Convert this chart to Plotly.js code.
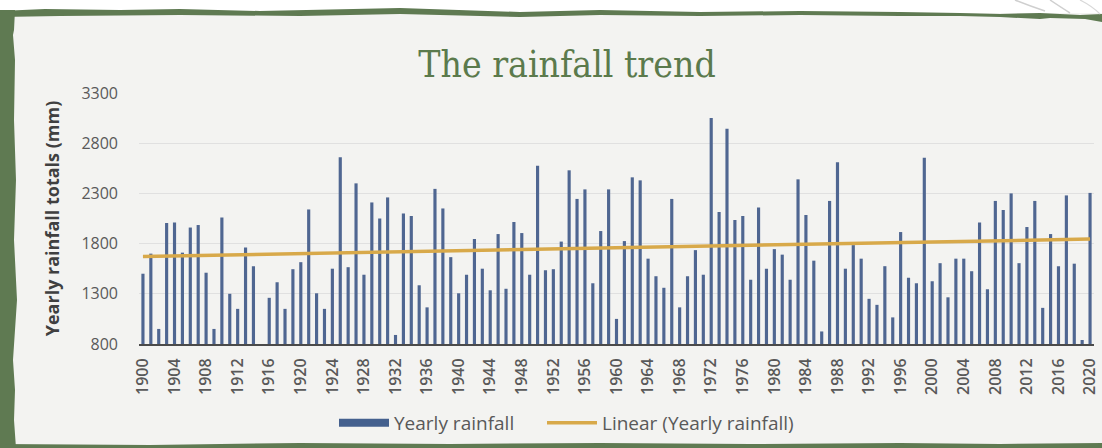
<!DOCTYPE html>
<html>
<head>
<meta charset="utf-8">
<script src="https://cdn.plot.ly/plotly-3.0.1.min.js"></script>
<style>html,body{margin:0;padding:0;background:#f3f3f1;}#chart{width:1102px;height:448px;}</style>
</head>
<body>
<div id="chart"></div>
<script>
// ---- data ----
const firstYear = 1900;
const lastYear = 2020;
const years = [];
for (let y = firstYear; y <= lastYear; y++) years.push(y);

const rainfall = [
  1500, 1700, 950, 2005, 2010, 1710, 1960, 1985, 1510, 950,   // 1900-1909
  2060, 1300, 1150, 1760, 1575, null, 1260, 1415, 1150, 1545, // 1910-1919
  1615, 2140, 1305, 1150, 1550, 2660, 1565, 2400, 1490, 2210, // 1920-1929
  2050, 2260, 890, 2100, 2075, 1385, 1165, 2345, 2150, 1665,  // 1930-1939
  1305, 1490, 1845, 1550, 1335, 1895, 1350, 2015, 1905, 1490, // 1940-1949
  2575, 1535, 1545, 1820, 2530, 2245, 2340, 1405, 1925, 2340, // 1950-1959
  1050, 1825, 2460, 2430, 1650, 1475, 1360, 2245, 1165, 1475, // 1960-1969
  1735, 1490, 3050, 2115, 2945, 2035, 2075, 1440, 2160, 1550, // 1970-1979
  1745, 1690, 1440, 2440, 2085, 1630, 925, 2225, 2610, 1550,  // 1980-1989
  1785, 1650, 1250, 1190, 1575, 1065, 1915, 1460, 1405, 2655, // 1990-1999
  1425, 1605, 1265, 1650, 1650, 1525, 2010, 1345, 2225, 2135, // 2000-2009
  2300, 1605, 1965, 2225, 1160, 1895, 1575, 2280, 1600, 840,  // 2010-2019
  2305                                                        // 2020
];

const trendYears = [1900, 2020];
const trendValues = [1672, 1845];

const xTickVals = [1900,1904,1908,1912,1916,1920,1924,1928,1932,1936,1940,1944,1948,1952,1956,1960,1964,1968,1972,1976,1980,1984,1988,1992,1996,2000,2004,2008,2012,2016,2020];
const xTickText = xTickVals.map(String);
const yTickVals = [800, 1300, 1800, 2300, 2800, 3300];

const seriesName = 'Yearly rainfall';
const trendName = 'Linear (Yearly rainfall)';

// ---- frame geometry helpers (pixel -> paper) ----
const PL = 139, PR = 1094, PT = 93, PB = 344;
const W = 1102, H = 448;
const px = v => (v - PL) / (PR - PL);
const py = v => (PB - v) / (PB - PT);
const poly = pts => 'M' + pts.map(p => px(p[0]).toFixed(5) + ',' + py(p[1]).toFixed(5)).join(' L') + ' Z';
const green = '#5f7a52';
const barColor = '#4f6691';

const shapes = [
  {type:'rect', xref:'paper', yref:'paper', x0:px(0), x1:px(W), y0:py(0), y1:py(13), fillcolor:'#ffffff', line:{width:0}, layer:'below'},
  {type:'path', xref:'paper', yref:'paper', fillcolor:green, line:{width:0}, layer:'below',
   path: poly([[0,11],[45,9],[120,10],[180,9],[260,11],[400,8],[520,12],[600,10],[700,12],[800,11],[900,12],[960,13],[1000,14],[1040,13],[1080,15],[1102,14],[1102,22],[1085,19],[1050,18],[1040,19],[1000,17],[960,16],[900,16],[800,15],[700,16],[600,15],[520,17],[400,14],[300,16],[180,15],[60,16],[0,17]])},
  {type:'path', xref:'paper', yref:'paper', fillcolor:green, line:{width:0}, layer:'below',
   path: poly([[0,10],[15,10],[14,30],[13,35],[15,60],[14,120],[16,180],[14,240],[17,300],[13,360],[15,390],[14,420],[16,448],[0,448]])},
  {type:'path', xref:'paper', yref:'paper', fillcolor:green, line:{width:0}, layer:'below',
   path: poly([[0,444],[150,445],[300,443],[450,444],[600,443],[750,444],[900,443],[1000,444],[1102,443],[1102,448],[0,448]])},
  {type:'path', xref:'paper', yref:'paper', line:{color:'#cfcfcf', width:1.5}, layer:'below',
   path: 'M' + px(1015) + ',' + py(0) + ' Q' + px(1030) + ',' + py(6) + ' ' + px(1045) + ',' + py(11)},
  {type:'path', xref:'paper', yref:'paper', line:{color:'#cfcfcf', width:1.5}, layer:'below',
   path: 'M' + px(1050) + ',' + py(0) + ' Q' + px(1062) + ',' + py(8) + ' ' + px(1070) + ',' + py(13)},
  {type:'path', xref:'paper', yref:'paper', line:{color:'#d8d8d8', width:1.2}, layer:'below',
   path: 'M' + px(1080) + ',' + py(0) + ' Q' + px(1092) + ',' + py(6) + ' ' + px(1100) + ',' + py(14)}
];

const traces = [
  {
    type: 'bar', name: seriesName, x: years, y: rainfall,
    marker: {color: barColor},
    showlegend: false,
    legendgroup: 'rain'
  },
  // legend entry for the bars, drawn as a wide swatch like the original
  {
    type: 'scatter', mode: 'lines', name: seriesName, x: [null], y: [null],
    line: {color: '#44608e', width: 8},
    legendgroup: 'rain', hoverinfo: 'skip', legend: 'legend'
  },
  {
    type: 'scatter', mode: 'lines', name: trendName,
    x: trendYears, y: trendValues,
    line: {color: '#d8a94a', width: 3.5},
    legend: 'legend2'
  }
];

const legendStyle = {
  orientation: 'h',
  xref: 'container', xanchor: 'left',
  y: 1 - 423 / H, yref: 'container', yanchor: 'middle',
  font: {family: '"Open Sans", sans-serif', size: 19, color: '#595959'},
  bgcolor: 'rgba(0,0,0,0)',
  itemwidth: 50
};

const layout = {
  width: W, height: H,
  margin: {l: PL, r: W - PR, t: PT, b: H - PB, pad: 0},
  paper_bgcolor: '#f3f3f1',
  plot_bgcolor: 'rgba(0,0,0,0)',
  bargap: 0.6,
  showlegend: true,
  title: {
    text: 'The rainfall trend',
    font: {family: '"DejaVu Serif Condensed", "DejaVu Serif", serif', size: 37, color: '#5b7a4c', stretch: 'condensed'},
    x: 0.5145, xref: 'container', xanchor: 'center',
    y: 1 - 64 / H, yref: 'container', yanchor: 'middle'
  },
  xaxis: {
    range: [1899.5, 2020.5],
    tickmode: 'array', tickvals: xTickVals, ticktext: xTickText,
    tickangle: -90,
    tickfont: {family: '"Open Sans", sans-serif', size: 16, color: '#595959', weight: 600},
    showgrid: false, zeroline: false,
    showline: true, linecolor: '#4a4a4a', linewidth: 2,
    ticks: '', ticklabelstandoff: 6,
    fixedrange: true
  },
  yaxis: {
    range: [800, 3300],
    tickmode: 'array', tickvals: yTickVals,
    tickfont: {family: '"Open Sans", sans-serif', size: 16, color: '#595959'},
    showgrid: true, gridcolor: '#e0e0e0', gridwidth: 1,
    zeroline: false, showline: false, ticks: '',
    ticklabelstandoff: 20,
    title: {text: 'Yearly rainfall totals (mm)', standoff: 17,
            font: {family: '"Open Sans", sans-serif', size: 18, color: '#404040', weight: 'bold'}},
    fixedrange: true
  },
  legend: Object.assign({}, legendStyle, {x: 334 / W}),
  legend2: Object.assign({}, legendStyle, {x: 542 / W}),
  shapes: shapes
};

Plotly.newPlot('chart', traces, layout, {displayModeBar: false, staticPlot: true});
</script>
</body>
</html>
